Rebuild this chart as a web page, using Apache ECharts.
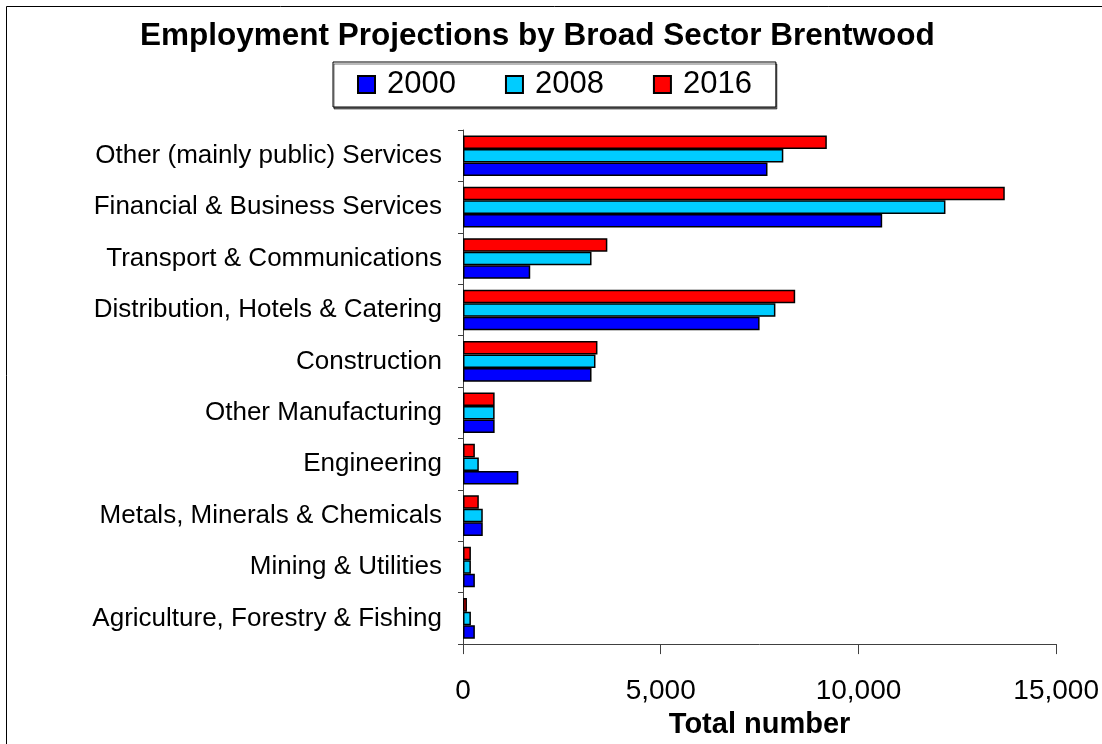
<!DOCTYPE html>
<html>
<head>
<meta charset="utf-8">
<style>
  html, body { margin: 0; padding: 0; background: #fff; }
  #chart { width: 1102px; height: 744px; }
</style>
<script src="https://cdn.jsdelivr.net/npm/echarts@6/dist/echarts.min.js"></script>
</head>
<body>
<div id="chart"></div>
<script>
// Sectors, listed bottom to top as they sit on the category axis
const sectors = [
  'Agriculture, Forestry & Fishing',
  'Mining & Utilities',
  'Metals, Minerals & Chemicals',
  'Engineering',
  'Other Manufacturing',
  'Construction',
  'Distribution, Hotels & Catering',
  'Transport & Communications',
  'Financial & Business Services',
  'Other (mainly public) Services'
];

// Employment (total number) per sector
const jobs2000 = [300, 300, 500, 1400, 800, 3250, 7500, 1700, 10600, 7700];
const jobs2008 = [200, 200, 500, 400, 800, 3350, 7900, 3250, 12200, 8100];
const jobs2016 = [100, 200, 400, 300, 800, 3400, 8400, 3650, 13700, 9200];

const years = ['2000', '2008', '2016'];
const xTicks = [0, 5000, 10000, 15000];

const FONT = '"Liberation Sans", Arial, sans-serif';
const chart = echarts.init(document.getElementById('chart'));

function barSeries(name, data, color) {
  return {
    name: name,
    type: 'bar',
    data: data,
    barGap: '0%',
    barCategoryGap: '21%',
    itemStyle: { color: color, borderColor: '#000', borderWidth: 1.5 },
    emphasis: { disabled: true }
  };
}

chart.setOption({
  animation: false,
  backgroundColor: '#fff',
  textStyle: { fontFamily: FONT },
  graphic: [{
    type: 'rect',
    left: 4, top: 4,
    shape: { width: 1300, height: 900 },
    style: { fill: 'none', stroke: '#000', lineWidth: 1 },
    silent: true,
    z: -10
  }],
  title: {
    text: 'Employment Projections by Broad Sector Brentwood',
    left: 135,
    top: 15,
    padding: 5,
    textStyle: { fontFamily: FONT, fontWeight: 'bold', fontSize: 31.5, color: '#000' }
  },
  legend: {
    data: years,
    left: 333,
    top: 62,
    orient: 'horizontal',
    icon: 'rect',
    itemWidth: 17,
    itemHeight: 17,
    itemGap: 49,
    padding: [7, 24, 7, 24],
    backgroundColor: '#fff',
    borderColor: '#000',
    borderWidth: 1,
    shadowColor: 'rgba(0,0,0,0.55)',
    shadowOffsetX: 1,
    shadowOffsetY: 2,
    shadowBlur: 0,
    selectedMode: false,
    textStyle: { fontFamily: FONT, fontSize: 31, color: '#000', lineHeight: 31, padding: [0, 0, 0, 7] }
  },
  grid: { left: 463, right: 42, top: 130, bottom: 98, containLabel: false },
  xAxis: {
    type: 'value',
    min: xTicks[0],
    max: xTicks[xTicks.length - 1],
    interval: xTicks[1] - xTicks[0],
    name: 'Total number',
    nameLocation: 'middle',
    nameGap: 61,
    nameTextStyle: { fontFamily: FONT, fontWeight: 'bold', fontSize: 29, color: '#000' },
    axisLine: { show: true, lineStyle: { color: '#404040', width: 1 } },
    axisTick: { show: true, length: 10, lineStyle: { color: '#404040' } },
    axisLabel: {
      margin: 33,
      fontFamily: FONT,
      fontSize: 28,
      color: '#000',
      formatter: v => v.toLocaleString('en-US')
    },
    splitLine: { show: false }
  },
  yAxis: {
    type: 'category',
    data: sectors,
    axisLine: { show: true, lineStyle: { color: '#404040', width: 1 } },
    axisTick: { show: true, length: 5, lineStyle: { color: '#404040' } },
    axisLabel: { margin: 21, fontFamily: FONT, fontSize: 26, color: '#000' },
    splitLine: { show: false }
  },
  // 2016 listed first so it sits at the top of each group
  series: [
    barSeries(years[2], jobs2016, '#FF0000'),
    barSeries(years[1], jobs2008, '#00CCFF'),
    barSeries(years[0], jobs2000, '#0000FF')
  ]
});
</script>
</body>
</html>
